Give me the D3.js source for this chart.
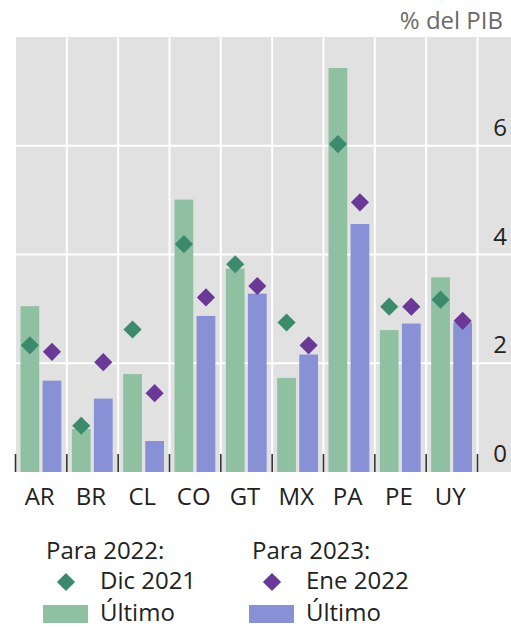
<!DOCTYPE html>
<html>
<head>
<meta charset="utf-8">
<script src="https://cdn.jsdelivr.net/npm/d3@7"></script>
<style>
  html, body { margin: 0; padding: 0; background: #ffffff; }
  svg { display: block; }
  text { font-family: "Open Sans", "Noto Sans", sans-serif; }
</style>
</head>
<body>
<svg id="chart" width="511" height="627"></svg>
<script>
const categories = ["AR", "BR", "CL", "CO", "GT", "MX", "PA", "PE", "UY"];
const latest2022 = [3.05, 0.79, 1.80, 5.01, 3.74, 1.73, 7.43, 2.61, 3.58];
const dec2021    = [2.33, 0.85, 2.62, 4.19, 3.82, 2.75, 6.03, 3.04, 3.17];
const latest2023 = [1.68, 1.35, 0.57, 2.87, 3.28, 2.16, 4.56, 2.73, 2.75];
const jan2022    = [2.21, 2.02, 1.45, 3.21, 3.42, 2.33, 4.96, 3.04, 2.78];
const yTicks = [0, 2, 4, 6];
const unitLabel = "% del PIB";
const legendTitles = ["Para 2022:", "Para 2023:"];
const legendPoints = ["Dic 2021", "Ene 2022"];
const legendBars = ["Último", "Último"];

const colors = {
  bg: "#e1e1e1",
  greenBar: "#8fc0a2",
  blueBar: "#8891d6",
  greenDot: "#3b8a6c",
  purpleDot: "#6a3997"
};

const svg = d3.select("#chart");
const plot = { left: 16, right: 511, top: 37, bottom: 472 };

const x = d3.scaleBand().domain(categories).range([15, 477]).paddingInner(0).paddingOuter(0);
const w = x.bandwidth();
const inner = d3.scaleBand().domain(["a", "b"]).range([5.5, w - 5]).paddingInner(0.15);
const y = d3.scaleLinear().domain([0, 8]).range([plot.bottom, plot.top]);

// background
svg.append("rect")
  .attr("x", plot.left).attr("y", plot.top)
  .attr("width", plot.right - plot.left).attr("height", plot.bottom - plot.top)
  .attr("fill", colors.bg);

// horizontal grid
svg.append("g").selectAll("line").data(yTicks.filter(t => t > 0)).join("line")
  .attr("x1", plot.left).attr("x2", plot.right)
  .attr("y1", d => y(d)).attr("y2", d => y(d))
  .attr("stroke", "#ffffff").attr("stroke-width", 2);

// vertical grid at band boundaries
const boundaries = categories.map(c => x(c)).concat([x(categories[categories.length - 1]) + w]);
svg.append("g").selectAll("line").data(boundaries.slice(1)).join("line")
  .attr("x1", d => d + 0.5).attr("x2", d => d + 0.5)
  .attr("y1", plot.top).attr("y2", plot.bottom)
  .attr("stroke", "#ffffff").attr("stroke-width", 2);

const rows = categories.map((c, i) => ({
  c, l22: latest2022[i], d21: dec2021[i], l23: latest2023[i], j22: jan2022[i]
}));

// bars
svg.append("g").selectAll("rect").data(rows).join("rect")
  .attr("x", d => x(d.c) + inner("a"))
  .attr("width", inner.bandwidth())
  .attr("y", d => y(d.l22))
  .attr("height", d => y(0) - y(d.l22))
  .attr("fill", colors.greenBar);

svg.append("g").selectAll("rect").data(rows).join("rect")
  .attr("x", d => x(d.c) + inner("b"))
  .attr("width", inner.bandwidth())
  .attr("y", d => y(d.l23))
  .attr("height", d => y(0) - y(d.l23))
  .attr("fill", colors.blueBar);

// ticks at band boundaries
svg.append("g").selectAll("line").data(boundaries).join("line")
  .attr("x1", d => d + 0.5).attr("x2", d => d + 0.5)
  .attr("y1", plot.bottom - 18).attr("y2", plot.bottom)
  .attr("stroke", "#333333").attr("stroke-width", 1.6);

// diamonds
const diamond = d3.symbol().type(d3.symbolSquare).size(165);
svg.append("g").selectAll("path").data(rows).join("path")
  .attr("d", diamond)
  .attr("transform", d => `translate(${x(d.c) + inner("a") + inner.bandwidth() / 2},${y(d.d21)}) rotate(45)`)
  .attr("fill", colors.greenDot);

svg.append("g").selectAll("path").data(rows).join("path")
  .attr("d", diamond)
  .attr("transform", d => `translate(${x(d.c) + inner("b") + inner.bandwidth() / 2},${y(d.j22)}) rotate(45)`)
  .attr("fill", colors.purpleDot);

// y labels (right side, above gridlines)
svg.append("g").selectAll("text").data(yTicks).join("text")
  .attr("x", 507).attr("y", d => y(d) - 10)
  .attr("text-anchor", "end")
  .attr("font-size", 24).attr("fill", "#222222")
  .text(d => d);

// unit label
svg.append("text")
  .attr("x", 503).attr("y", 29)
  .attr("text-anchor", "end")
  .attr("font-size", 24).attr("fill", "#6a6a6a")
  .text(unitLabel);

// x labels
svg.append("g").selectAll("text").data(categories).join("text")
  .attr("x", d => x(d) + w / 2 - 1)
  .attr("y", 505)
  .attr("text-anchor", "middle")
  .attr("font-size", 24).attr("fill", "#222222")
  .text(d => d);

// legend
const legX = [46, 252];
const dotColors = [colors.greenDot, colors.purpleDot];
const barColors = [colors.greenBar, colors.blueBar];
legX.forEach((lx, i) => {
  const g = svg.append("g");
  g.append("text").attr("x", lx).attr("y", 559)
    .attr("font-size", 24).attr("fill", "#222222").text(legendTitles[i]);
  g.append("path").attr("d", diamond)
    .attr("transform", `translate(${lx + 20},582) rotate(45)`)
    .attr("fill", dotColors[i]);
  g.append("text").attr("x", lx + 54).attr("y", 589)
    .attr("font-size", 24).attr("fill", "#222222").text(legendPoints[i]);
  g.append("rect").attr("x", lx - 3).attr("y", 605).attr("width", 45).attr("height", 18)
    .attr("fill", barColors[i]);
  g.append("text").attr("x", lx + 54).attr("y", 621)
    .attr("font-size", 24).attr("fill", "#222222").text(legendBars[i]);
});
</script>
</body>
</html>
